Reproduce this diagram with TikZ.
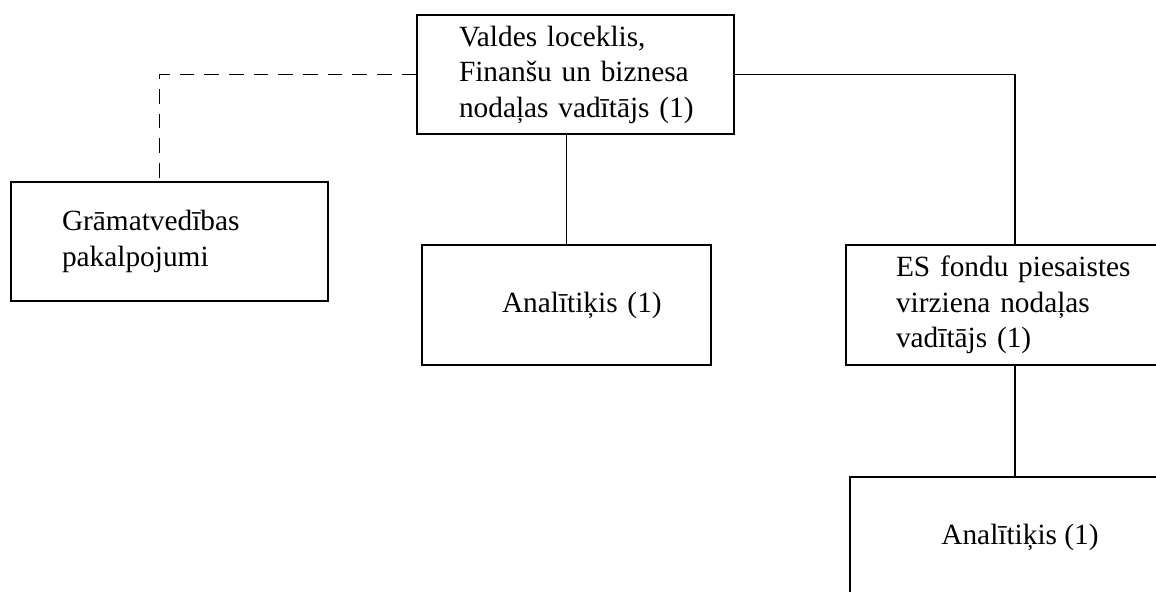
\documentclass[tikz,border=0pt]{standalone}
\usepackage{fontspec}
\setmainfont{Liberation Serif}
\usepackage{tikz}

\begin{document}
\begin{tikzpicture}[x=0.75pt,y=-0.75pt,
		orgbox/.style={draw,line width=1.05pt,inner sep=0pt,minimum height=90pt,font=\fontsize{22}{26.6}\selectfont},
		link/.style={line width=1.05pt}]
		\useasboundingbox (0,0) rectangle (1156,592);
		\clip (0,0) rectangle (1156,592);

		\node[orgbox,minimum width=237.75pt,minimum height=89.25pt,text width=174.75pt,align=left] (valde) at (575.5,74.5) {Valdes loceklis,\\Finanšu un biznesa\\\mbox{nodaļas vadītājs (1)}};
		\node[orgbox,minimum width=237.75pt,minimum height=89.25pt,text width=161.25pt,align=left] (gram) at (169.5,241.5) {Grāmatvedības\\pakalpojumi};
		\node[orgbox,minimum width=216.75pt,text width=96.75pt,align=left] (anal) at (566.5,305) {\mbox{Analītiķis (1)}};
		\node[orgbox,minimum width=253.5pt,text width=178.5pt,align=left] (esfondi) at (1015,305) {\mbox{ES fondu piesaistes}\\virziena nodaļas\\vadītājs (1)};
		\node[orgbox,minimum width=255pt,align=center] (esanal) at (1020,537) {Analītiķis (1)};

		\draw[link,dash pattern=on 11pt off 7.5pt] (valde.west) -| ([xshift=-7.5pt]gram.north);
		\draw[link] (anal.north |- valde.south) -- (anal.north);
		\draw[link] (valde.east) -| (esfondi.north);
		\draw[link] (esfondi.south) -- (esfondi.south |- esanal.north);
	\end{tikzpicture}
\end{document}
